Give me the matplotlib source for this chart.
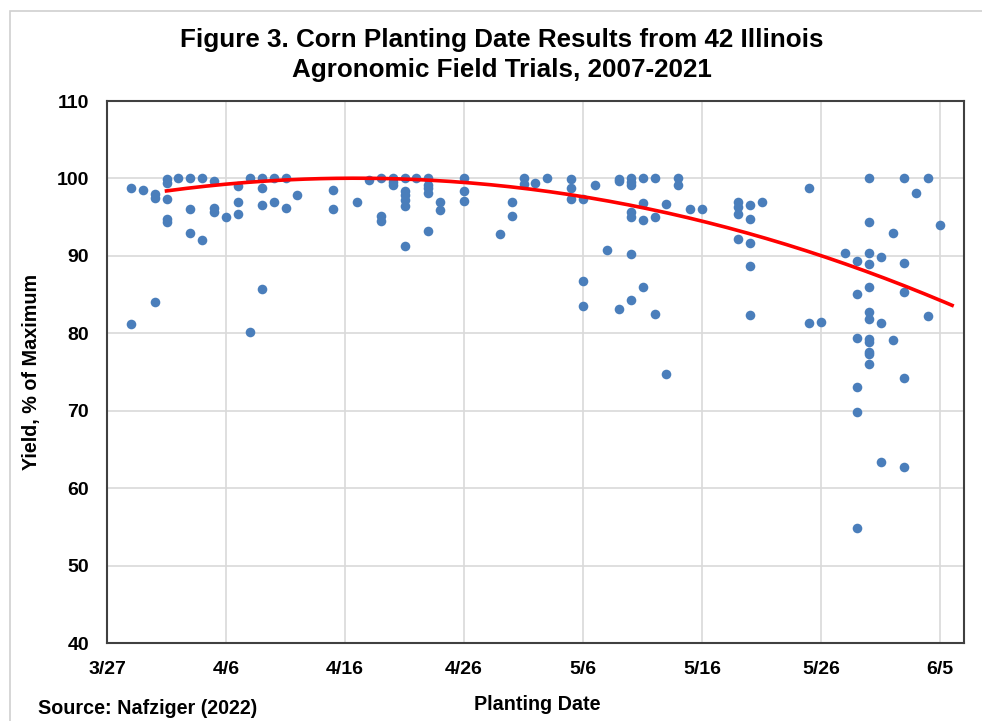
import matplotlib
matplotlib.use("Agg")
import matplotlib.pyplot as plt
import numpy as np
from datetime import date
import matplotlib.dates as mdates

# dados (data de sementeira, rendimento % do máximo)
plant_dates = (
    ["3/29"] * 2 + ["3/30"] + ["3/31"] * 3 + ["4/1"] * 5 + ["4/2"] + ["4/3"] * 3
    + ["4/4"] * 2 + ["4/5"] * 3 + ["4/6"] + ["4/7"] * 3 + ["4/8"] * 2 + ["4/9"] * 4
    + ["4/10"] * 2 + ["4/11"] * 2 + ["4/12"] + ["4/15"] * 2 + ["4/17"] + ["4/18"]
    + ["4/19"] * 3 + ["4/20"] * 3 + ["4/21"] * 6 + ["4/22"] + ["4/23"] * 5
    + ["4/24"] * 2 + ["4/26"] * 3 + ["4/29"] + ["4/30"] * 2 + ["5/1"] * 2 + ["5/2"]
    + ["5/3"] + ["5/5"] * 3 + ["5/6"] * 3 + ["5/7"] + ["5/8"] + ["5/9"] * 3
    + ["5/10"] * 7 + ["5/11"] * 4 + ["5/12"] * 3 + ["5/13"] * 2 + ["5/14"] * 2
    + ["5/15"] + ["5/16"] + ["5/19"] * 4 + ["5/20"] * 5 + ["5/21"] + ["5/25"] * 2
    + ["5/26"] + ["5/28"] + ["5/29"] * 6 + ["5/30"] * 12 + ["5/31"] * 3
    + ["6/1"] * 2 + ["6/2"] * 5 + ["6/3"] + ["6/4"] * 2 + ["6/5"]
)
yields = [
    98.7, 81.2,
    98.5,
    98.0, 97.5, 84.0,
    99.9, 99.4, 97.4, 94.8, 94.4,
    100,
    100, 96.0, 92.9,
    100, 92.1,
    99.7, 96.2, 95.7,
    95.0,
    99.0, 96.9, 95.4,
    100, 80.2,
    100, 98.8, 96.6, 85.7,
    100, 96.9,
    100, 96.2,
    97.9,
    98.5, 96.1,
    96.9,
    99.8,
    100, 95.2, 94.5,
    100, 99.5, 99.1,
    100, 98.4, 97.8, 97.2, 96.5, 91.3,
    100,
    100, 99.2, 98.7, 98.1, 93.2,
    96.9, 95.9,
    100, 98.4, 97.1,
    92.8,
    96.9, 95.2,
    100, 99.3,
    99.4,
    100,
    99.9, 98.7, 97.3,
    97.3, 86.7, 83.5,
    99.2,
    90.7,
    99.9, 99.7, 83.2,
    100, 99.6, 99.2, 95.6, 95.0, 90.2, 84.3,
    100, 96.8, 94.6, 86.0,
    100, 95.0, 82.5,
    96.7, 74.8,
    100, 99.2,
    96.1,
    96.1,
    96.9, 96.3, 95.4, 92.2,
    96.6, 94.7, 91.7, 88.7, 82.3,
    96.9,
    98.7, 81.3,
    81.4,
    90.4,
    89.3, 85.1, 79.4, 73.0, 69.8, 54.8,
    100, 94.4, 90.4, 89.0, 86.0, 82.7, 81.8, 79.2, 78.9, 77.6, 77.3, 76.0,
    89.9, 81.3, 63.4,
    92.9, 79.1,
    100, 89.1, 85.3, 74.2, 62.7,
    98.1,
    100, 82.2,
    94.0,
]
trend_dates = ["4/1", "4/16", "5/16", "6/6"]
trend_vals = [98.4, 100.0, 94.5, 83.6]
tick_labels = ["3/27", "4/6", "4/16", "4/26", "5/6", "5/16", "5/26", "6/5"]
x_min, x_max = "3/27", "6/7"


def to_date(s):
    m, d = s.split("/")
    return date(2021, int(m), int(d))


def to_num(lst):
    return mdates.date2num([to_date(s) for s in lst])


x = to_num(plant_dates)
y = np.array(yields)

plt.rcParams["font.family"] = ["Liberation Sans", "DejaVu Sans"]
plt.rcParams["font.weight"] = "bold"

fig = plt.figure(figsize=(9.82, 7.21), dpi=100)
ax = fig.add_axes([107 / 982, 1 - 643 / 721, 857 / 982, 542 / 721])

# moldura exterior cinzenta
fig.patches.append(plt.Rectangle((10 / 982, -0.1), 1.2, 1.1 - 11 / 721,
                                 transform=fig.transFigure, fill=False,
                                 edgecolor="#d0d0d0", linewidth=1.2))

ax.scatter(x, y, s=48, color="#4a7ebb", zorder=3, linewidths=0)

# linha de tendência polinomial (2ª ordem) pelos pontos lidos
tx = to_num(trend_dates)
coef = np.polyfit(tx - tx[0], trend_vals, 2)
xt = np.linspace(tx[0], tx[-1], 200)
ax.plot(xt, np.polyval(coef, xt - tx[0]), color="#ff0000", linewidth=2.6, zorder=4)

ax.set_xticks(to_num(tick_labels))
ax.set_xticklabels(tick_labels)
ax.set_xlim(to_num([x_min, x_max]))
ax.set_ylim(40, 110)
ax.set_yticks(range(40, 111, 10))
ax.grid(True, color="#d9d9d9", linewidth=1.2, zorder=0)
ax.set_axisbelow(True)
ax.tick_params(length=0, labelsize=14, pad=13)
for sp in ax.spines.values():
    sp.set_color("#404040")
    sp.set_linewidth(1.5)

fig.text(502 / 982, 1 - 55 / 721,
         "Figure 3. Corn Planting Date Results from 42 Illinois\nAgronomic Field Trials, 2007-2021",
         ha="center", va="center", fontsize=18.7, fontweight="bold", linespacing=1.35)
fig.text(32 / 982, 1 - 372 / 721, "Yield, % of Maximum", rotation=90,
         ha="center", va="center", fontsize=14.2, fontweight="bold")
fig.text(537 / 982, 1 - 705 / 721, "Planting Date",
         ha="center", va="center", fontsize=14.2, fontweight="bold")
fig.text(38 / 982, 1 - 708 / 721, "Source: Nafziger (2022)",
         ha="left", va="center", fontsize=14.2, fontweight="bold")

fig.savefig("out.png", dpi=100)
